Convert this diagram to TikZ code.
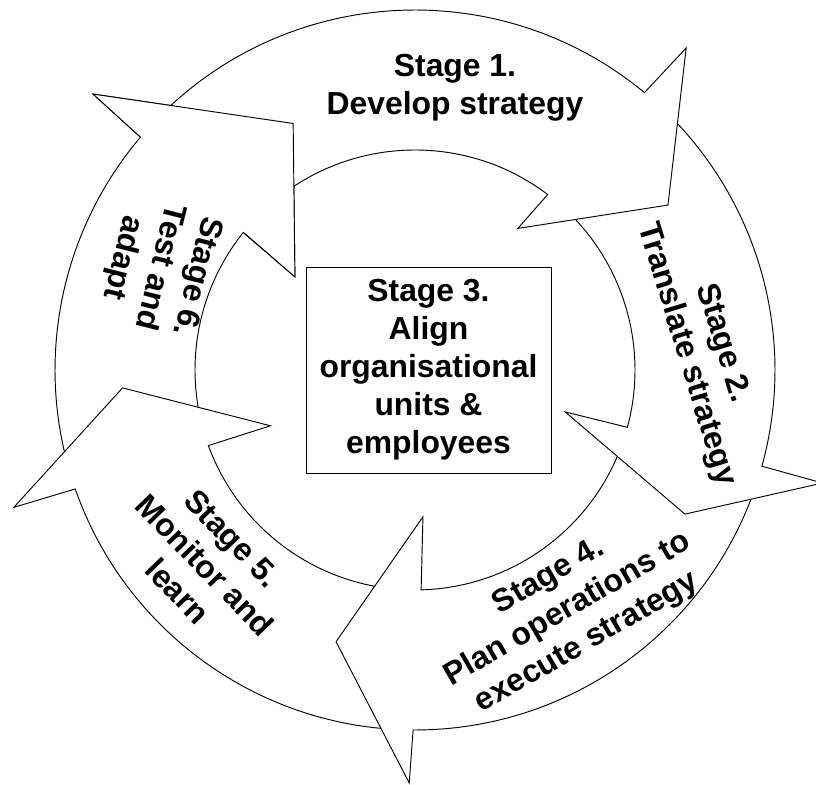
\documentclass[tikz,border=0pt]{standalone}
\usepackage{fontspec}
\setmainfont{Liberation Sans}
\usetikzlibrary{positioning}

\newcommand{\Rout}{360}
\newcommand{\Rin}{220}
% #1,#2 tail angles (outer, inner), #3,#4 head base angles (outer, inner),
% #5 outer barb, #6 tip, #7 inner barb
\newcommand{\cyclearrow}[7]{%
  \draw[ringarrow] (#1:\Rout) arc[start angle=#1, end angle=#3, radius=\Rout]
    -- (#5) -- (#6) -- (#7) -- (#4:\Rin)
    arc[start angle=#4, end angle=#2, radius=\Rin] -- cycle;}

\tikzset{
  ringline/.style={draw=black, line width=0.8pt, line join=miter},
  ringarrow/.style={ringline, fill=white},
  stagetext/.style={font=\fontsize{27.2}{32.5}\selectfont\bfseries, align=center, inner sep=0pt},
  stagebox/.style={stagetext, draw, line width=0.8pt, minimum width=73.5mm, minimum height=61.8mm}
}

\begin{document}
\begin{tikzpicture}[x=0.3mm, y=0.3mm]
  \useasboundingbox (-415,-415) rectangle (401,370);

  % the five curved arrows, each head lies over the tail of the next one
  \cyclearrow{-163.7}{-162.9}{-220.3}{-218.7}{-220.6:424}{-243.7:275}{-217.8:152} % stage 6
  \cyclearrow{-93.3}{-91.4}{-160.7}{-159.9}{-161.1:424}{-176.5:293}{-158.9:155} % stage 5
  \cyclearrow{-18.5}{-18.1}{-90.3}{-88.4}{-90.8:413}{-106.2:283}{-86.9:147} % stage 4
  \cyclearrow{47.4}{49.9}{-15.5}{-15.1}{-15.5:423}{-28.1:306}{-15.6:156} % stage 2
  \cyclearrow{136.7}{138.3}{50.4}{52.9}{49.9:421}{33.1:302}{54:175} % stage 1

  % head of stage 6 back on top of the tail of stage 1
  \fill[white] (-220.6:424) -- (-243.7:275) -- (-217.8:152) -- cycle;
  \draw[ringline] (-220.3:\Rout) -- (-220.6:424) -- (-243.7:275) -- (-217.8:152) -- (-218.7:\Rin);

  \node[stagetext] (stageone) at (40,282) {Stage 1.\\Develop strategy};
  \node[stagetext, rotate=-73] (stagetwo) at (289,21) {Stage 2.\\Translate strategy};
  \node[stagebox] (stagethree) at (13.5,0) {Stage 3.\\Align\\organisational\\units \&\\employees};
  \node[stagetext, rotate=30] (stagefour) at (153,-240) {Stage 4.\\Plan operations to\\execute strategy};
  \node[stagetext, rotate=-46] (stagefive) at (-210,-195) {Stage 5.\\Monitor and\\learn};
  \node[stagetext, rotate=-104] (stagesix) at (-256,103) {Stage 6.\\Test and\\adapt};
\end{tikzpicture}
\end{document}
